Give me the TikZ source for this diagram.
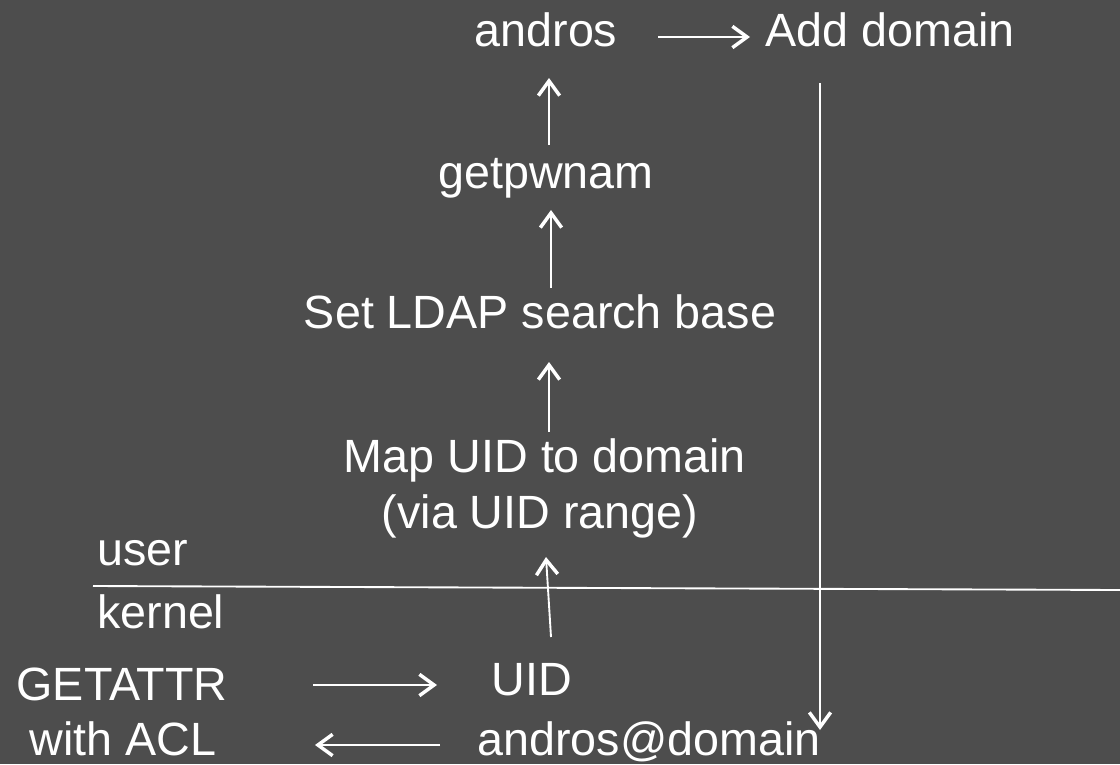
\documentclass[tikz,border=0pt]{standalone}
\usepackage{fontspec}
\setmainfont{Liberation Sans}
\usetikzlibrary{arrows.meta,calc}
\definecolor{bg}{RGB}{77,77,77}
\begin{document}
\begin{tikzpicture}[x=0.75pt,y=-0.75pt,
  lbl/.style={text=white,inner sep=0pt,font=\fontsize{35}{42}\selectfont,anchor=base},
  arr/.style={draw=white,line width=1.4pt,-{Straight Barb[length=11pt,width=16pt,line width=2.6pt]}},
  plain/.style={draw=white,line width=1.4pt}]
\fill[bg] (0,0) rectangle (1120,764);
\useasboundingbox (0,0) rectangle (1120,764);
% nodes
\node[lbl] (andros) at (546,46) {andros};
\node[lbl] (add) at (890,46) {Add domain};
\node[lbl] (getpw) at (546,188) {getpwnam};
\node[lbl] (setl) at (540,328) {Set LDAP search base};
\node[lbl] (map) at (545,472) {Map UID to domain};
\node[lbl] (via) at (540,528) {(via UID range)};
\node[lbl,anchor=base west] (user) at (97,565) {user};
\node[lbl,anchor=base west] (kernel) at (97,628) {kernel};
\node[lbl] (getattr) at (122,700) {GETATTR};
\node[lbl] (withacl) at (123,755) {with ACL};
\node[lbl] (uid) at (532,695) {UID};
\node[lbl] (atdom) at (649,755) {andros@domain};
% divider
\coordinate (d1) at (93,586);
\coordinate (d2) at (1120,590);
\draw[plain] (d1) -- (d2);
% connectors
\draw[arr] ($(andros.base)+(112,-9)$) -- ($(add.base)+(-140,-9)$);
\draw[arr] ($(getpw.base)+(3,-43)$) -- ($(andros.base)+(3,32)$);
\draw[arr] ($(setl.base)+(11,-40)$) -- ($(getpw.base)+(5,22)$);
\draw[arr] ($(map.base)+(4,-40)$) -- ($(setl.base)+(9,34)$);
\draw[arr] ($(uid.base)+(19,-58)$) -- ($(via.base)+(6,29)$);
\draw[arr] ($(add.base)+(-70,37)$) -- ($(atdom.base)+(171,-25)$);
\draw[arr] ($(getattr.base)+(191,-15)$) -- ($(uid.base)+(-95,-10)$);
\draw[arr] ($(atdom.base)+(-209,-10)$) -- ($(withacl.base)+(192,-10)$);
\end{tikzpicture}
\end{document}
